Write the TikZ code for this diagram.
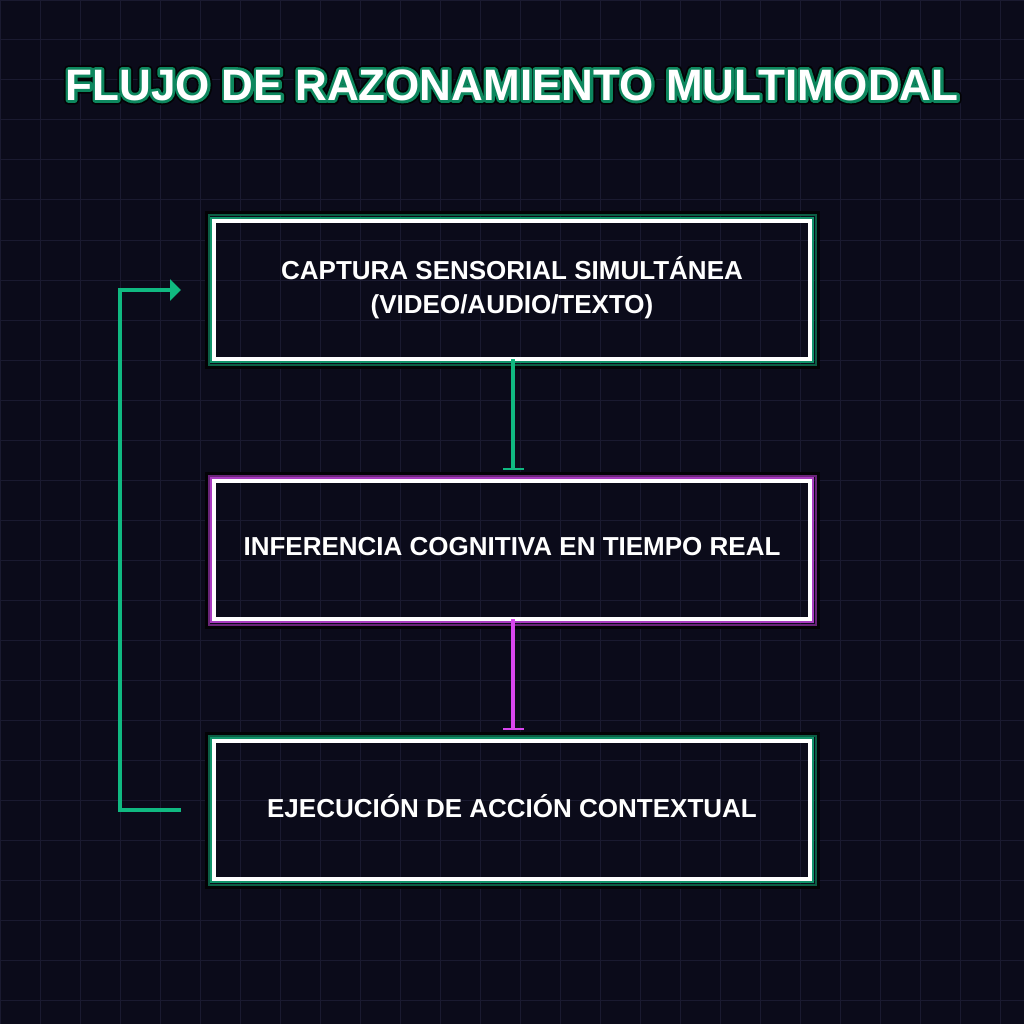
\documentclass[tikz,border=0pt]{standalone}
\usepackage{fontspec}
\setmainfont{Liberation Sans}
\usetikzlibrary{arrows.meta}
\definecolor{bg}{HTML}{0B0B1A}
\definecolor{gridc}{HTML}{1A1A30}
\definecolor{grn}{HTML}{10B981}
\definecolor{grnm}{HTML}{11936A}
\definecolor{grnd}{HTML}{0B5E44}
\definecolor{mag}{HTML}{D946EF}
\definecolor{magm}{HTML}{A93CC0}
\definecolor{magd}{HTML}{6A2478}
\definecolor{glowk}{HTML}{030306}
\tikzset{
  boxnode/.style={draw=white, line width=4pt, minimum width=596pt, minimum height=138pt,
    outer sep=0pt, inner sep=0pt},
  boxtext/.style={text=white, font=\bfseries\fontsize{26}{34}\selectfont, align=center},
  titletext/.style={font=\bfseries\fontsize{44}{50}\selectfont},
  flowg/.style={draw=grn, line width=4pt},
  flowm/.style={draw=mag, line width=4pt},
}
\newcommand{\strokedtext}[3]{%
  \special{pdf:literal direct q 2 Tr #2 w 1 j #3 RG #3 rg}#1\special{pdf:literal direct Q}}
\newcommand{\glowbox}[3]{%
  \draw[glowk, line width=3pt] ([shift={(-8pt,8pt)}]#1.north west) rectangle ([shift={(8pt,-8pt)}]#1.south east);
  \draw[#3, line width=2pt] ([shift={(-5.5pt,5.5pt)}]#1.north west) rectangle ([shift={(5.5pt,-5.5pt)}]#1.south east);
  \draw[#2, line width=2.5pt] ([shift={(-3.2pt,3.2pt)}]#1.north west) rectangle ([shift={(3.2pt,-3.2pt)}]#1.south east);
}
\begin{document}
\begin{tikzpicture}[x=1pt,y=-1pt]
\fill[bg] (0,0) rectangle (1024,1024);
\useasboundingbox (0,0) rectangle (1024,1024);
\draw[gridc, line width=1pt] (0,0) grid[step=40pt] (1024,1024);
% title
\node[titletext] (titleA) at (512,85) {\strokedtext{FLUJO DE RAZONAMIENTO MULTIMODAL}{9}{0.01 0.01 0.02}};
\node[titletext] (titleB) at (512,85) {\strokedtext{FLUJO DE RAZONAMIENTO MULTIMODAL}{5.5}{0.05 0.53 0.37}};
\node[titletext, text=white] (title) at (512,85) {FLUJO DE RAZONAMIENTO MULTIMODAL};
% boxes
\node[boxnode] (b1) at (512,290) {};
\node[boxnode] (b2) at (512,550) {};
\node[boxnode] (b3) at (512,810) {};
\glowbox{b1}{grnm}{grnd}
\glowbox{b2}{magm}{magd}
\glowbox{b3}{grnm}{grnd}
\node[boxnode] at (b1) {};
\node[boxnode] at (b2) {};
\node[boxnode] at (b3) {};
\node[boxtext] (t1) at ([yshift=2pt]b1.center) {CAPTURA SENSORIAL SIMULTÁNEA\\(VIDEO/AUDIO/TEXTO)};
\node[boxtext] (t2) at ([yshift=3.5pt]b2.center) {INFERENCIA COGNITIVA EN TIEMPO REAL};
\node[boxtext] (t3) at ([yshift=4pt]b3.center) {EJECUCIÓN DE ACCIÓN CONTEXTUAL};
% connectors
\draw[flowg, shorten >=11pt, -{Bar[width=21pt,line width=2pt]}] ([xshift=1pt]b1.south) -- ([xshift=1pt]b2.north);
\draw[flowm, shorten >=11pt, -{Bar[width=21pt,line width=2pt]}] ([xshift=1pt]b2.south) -- ([xshift=1pt]b3.north);
\draw[flowg, shorten <=33pt, shorten >=33pt, -{Triangle[length=11pt,width=21pt]}] (b3.west) -- ++(-94pt,0) |- (b1.west);
\end{tikzpicture}
\end{document}
